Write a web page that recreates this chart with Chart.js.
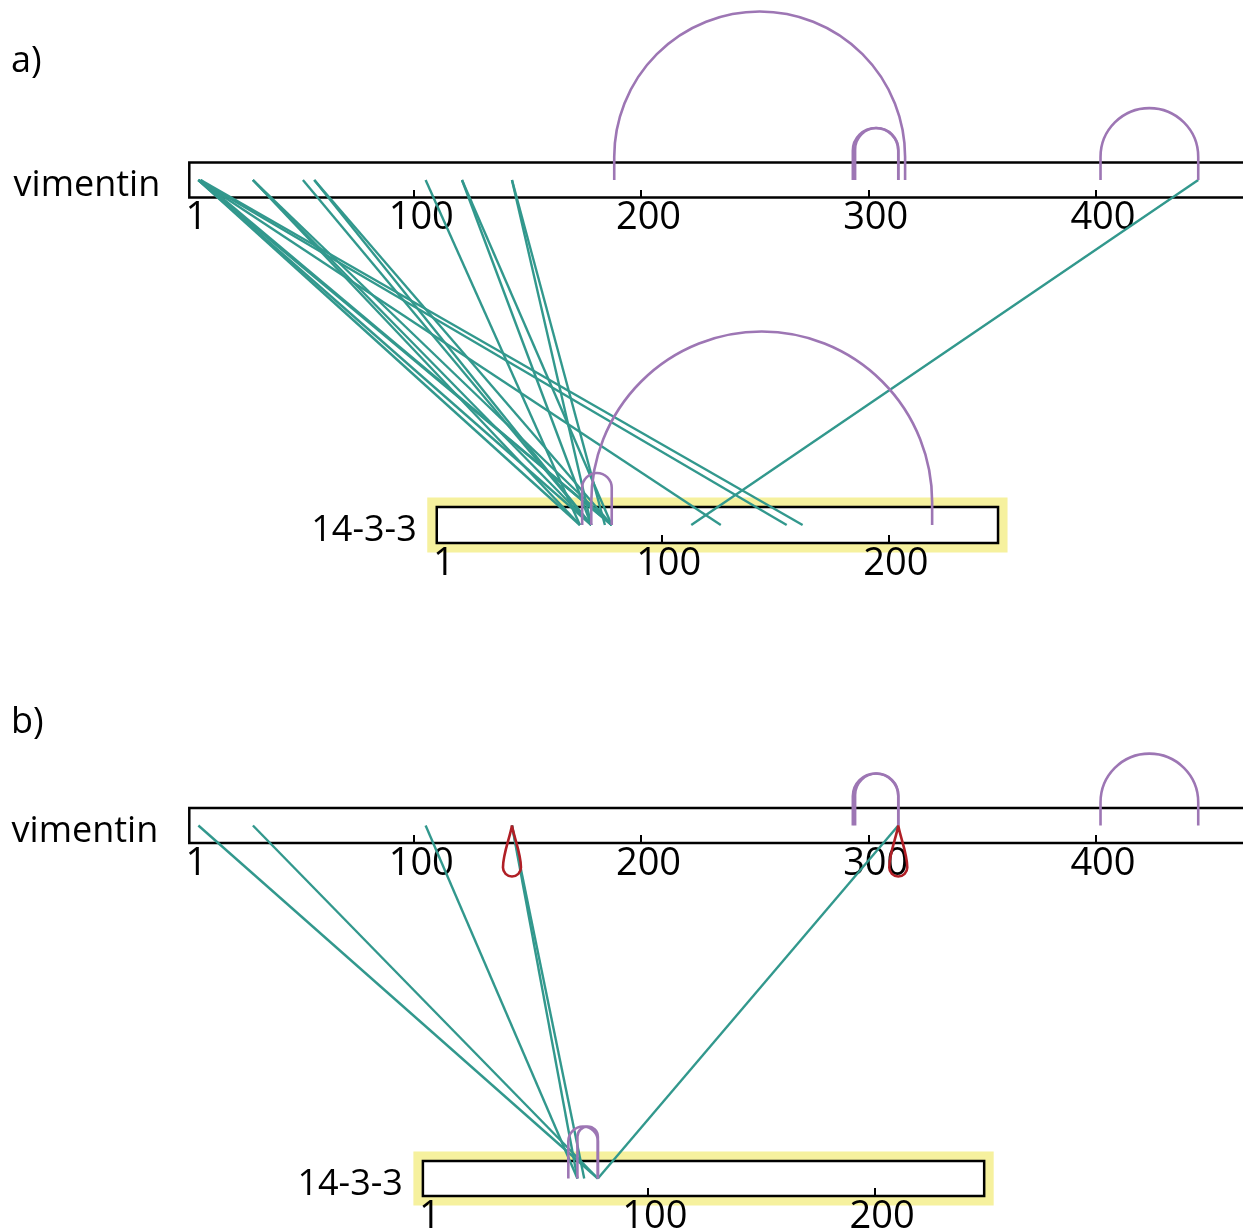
<!DOCTYPE html>
<html>
<head>
<meta charset="utf-8">
<script src="https://cdn.jsdelivr.net/npm/chart.js@4.4.1/dist/chart.umd.min.js"></script>
<style>
  html, body { margin: 0; padding: 0; background: #fff; }
  #wrap { width: 1243px; height: 1232px; position: relative; }
</style>
</head>
<body>
<div id="wrap"><canvas id="xlinks"></canvas></div>
<script>
// protein lengths and axis ticks
const vimentinLength = 466;
const ywhaLength = 248;
const vimentinTicks = [1, 100, 200, 300, 400];
const ywhaTicks = [1, 100, 200];

// a) vimentin residue -> 14-3-3 residue
const linksA = [
  [5, 64], [5, 69], [5, 78], [6, 78], [5, 126], [5, 155], [6, 162],
  [29, 64], [29, 69], [29, 78],
  [51, 69], [56, 69], [56, 78],
  [105, 64],
  [121, 69], [121, 78],
  [143, 69], [143, 75],
  [445, 113],
];
const vimLoopsA = [[188, 316], [293, 313], [294, 313], [402, 445]];
const ywhaLoopsA = [[65, 78], [69, 219]];

// b)
const linksB = [[5, 78], [29, 78], [105, 69], [143, 69], [143, 72], [313, 78]];
const vimLoopsB = [[293, 313], [294, 313], [402, 445]];
const ywhaLoopsB = [[65, 78], [69, 78]];
const selfLinksB = [143, 313];

const TEAL = "#32988d";
const PURPLE = "#9d76b4";
const RED = "#b01f26";
const YELLOW = "#f6f19e";
const FONT = "'Open Sans', sans-serif";

// same px per residue on every track: 1243 px of canvas = 547 residues
const SPAN = 547;

// the four tracks: y of the bar centre (canvas px) and where residue 1 sits
const tracks = {
  xVimA: { y: 180, h: 35, min: -82.3, len: vimentinLength, ticks: vimentinTicks, name: "vimentin", gap: 29 },
  xYwhaA: { y: 525, h: 36, min: -191.2, len: ywhaLength, ticks: ywhaTicks, name: "14-3-3", gap: 20, box: true },
  xVimB: { y: 825.5, h: 35, min: -82.3, len: vimentinLength, ticks: vimentinTicks, name: "vimentin", gap: 31 },
  xYwhaB: { y: 1178.5, h: 35, min: -185.1, len: ywhaLength, ticks: ywhaTicks, name: "14-3-3", gap: 20, box: true },
};

const panels = [
  { label: "a)", labelY: 72, vim: "xVimA", ywha: "xYwhaA", links: linksA, vimLoops: vimLoopsA, ywhaLoops: ywhaLoopsA, self: [] },
  { label: "b)", labelY: 733, vim: "xVimB", ywha: "xYwhaB", links: linksB, vimLoops: vimLoopsB, ywhaLoops: ywhaLoopsB, self: selfLinksB },
];

function trackAxis(t) {
  return {
    type: "linear",
    min: t.min,
    max: t.min + SPAN,
    position: { y: t.y + t.h / 2 },
    afterBuildTicks: (axis) => {
      axis.ticks = t.ticks.map((v) => ({ value: v }));
    },
    grid: {
      display: true,
      drawOnChartArea: false,
      drawTicks: true,
      tickLength: -8,
      lineWidth: 2,
      color: (c) => (c.tick && c.tick.value === 1 ? "rgba(0,0,0,0)" : "#000"),
    },
    border: { display: false },
    ticks: {
      autoSkip: false,
      maxRotation: 0,
      padding: 6,
      labelOffset: 7,
      color: "#000",
      font: { family: FONT, size: 38 },
    },
  };
}

function drawLoop(ctx, xa, xb, yc) {
  const left = Math.min(xa, xb), right = Math.max(xa, xb);
  const r = (right - left) / 2;
  const leg = Math.max(23, 52 - r);
  ctx.beginPath();
  ctx.moveTo(left, yc);
  ctx.lineTo(left, yc - leg);
  ctx.arc(left + r, yc - leg, r, Math.PI, 0, false);
  ctx.lineTo(right, yc);
  ctx.stroke();
}

function drawDrop(ctx, x, yc) {
  const r = 9, cy = yc + 42;
  ctx.beginPath();
  ctx.moveTo(x, yc);
  ctx.bezierCurveTo(x - 2, yc + 12, x - r, cy - 14, x - r, cy);
  ctx.arc(x, cy, r, Math.PI, 0, true);
  ctx.bezierCurveTo(x + r, cy - 14, x + 2, yc + 12, x, yc);
  ctx.stroke();
}

const crosslinkPlugin = {
  id: "crosslinks",
  beforeDraw(chart) {
    const ctx = chart.ctx;
    const sy = chart.scales.y;
    ctx.save();
    for (const id in tracks) {
      const t = tracks[id];
      const sx = chart.scales[id];
      const x0 = sx.getPixelForValue(1);
      const x1 = sx.getPixelForValue(t.len);
      const top = sy.getPixelForValue(t.y - t.h / 2);
      const bot = sy.getPixelForValue(t.y + t.h / 2);
      if (t.box) {
        ctx.fillStyle = YELLOW;
        ctx.fillRect(x0 - 9.5, top - 9.5, x1 - x0 + 19, bot - top + 19);
      }
      ctx.fillStyle = "#fff";
      ctx.fillRect(x0, top, x1 - x0, bot - top);
      ctx.strokeStyle = "#000";
      ctx.lineWidth = 2.5;
      ctx.strokeRect(x0, top, x1 - x0, bot - top);
    }
    ctx.restore();
  },
  afterDatasetsDraw(chart) {
    const ctx = chart.ctx;
    const sy = chart.scales.y;
    ctx.save();
    ctx.lineCap = "butt";
    for (const p of panels) {
      const sv = chart.scales[p.vim], sw = chart.scales[p.ywha];
      const yv = sy.getPixelForValue(tracks[p.vim].y);
      const yw = sy.getPixelForValue(tracks[p.ywha].y);
      ctx.strokeStyle = TEAL;
      ctx.lineWidth = 2.4;
      for (const [a, b] of p.links) {
        ctx.beginPath();
        ctx.moveTo(sv.getPixelForValue(a), yv);
        ctx.lineTo(sw.getPixelForValue(b), yw);
        ctx.stroke();
      }
      ctx.strokeStyle = PURPLE;
      ctx.lineWidth = 2.6;
      for (const [a, b] of p.vimLoops) drawLoop(ctx, sv.getPixelForValue(a), sv.getPixelForValue(b), yv);
      for (const [a, b] of p.ywhaLoops) drawLoop(ctx, sw.getPixelForValue(a), sw.getPixelForValue(b), yw);
      ctx.strokeStyle = RED;
      ctx.lineWidth = 2.6;
      for (const a of p.self) drawDrop(ctx, sv.getPixelForValue(a), yv);
    }
    ctx.restore();
  },
  afterDraw(chart) {
    const ctx = chart.ctx;
    const sy = chart.scales.y;
    ctx.save();
    ctx.fillStyle = "#000";
    ctx.font = "36px " + FONT;
    ctx.textBaseline = "alphabetic";
    ctx.textAlign = "left";
    for (const p of panels) ctx.fillText(p.label, 11, sy.getPixelForValue(p.labelY));
    ctx.textAlign = "right";
    for (const id in tracks) {
      const t = tracks[id];
      const x0 = chart.scales[id].getPixelForValue(1);
      ctx.fillText(t.name, x0 - t.gap, sy.getPixelForValue(t.y) + 16);
    }
    ctx.restore();
  },
};

const scales = {
  y: { type: "linear", display: false, min: 0, max: 1232, reverse: true },
};
for (const id in tracks) scales[id] = trackAxis(tracks[id]);

new Chart(document.getElementById("xlinks"), {
  type: "scatter",
  data: { datasets: [] },
  options: {
    responsive: true,
    maintainAspectRatio: false,
    animation: false,
    layout: { padding: 0 },
    plugins: { legend: { display: false }, tooltip: { enabled: false } },
    scales: scales,
  },
  plugins: [crosslinkPlugin],
});
</script>
</body>
</html>
